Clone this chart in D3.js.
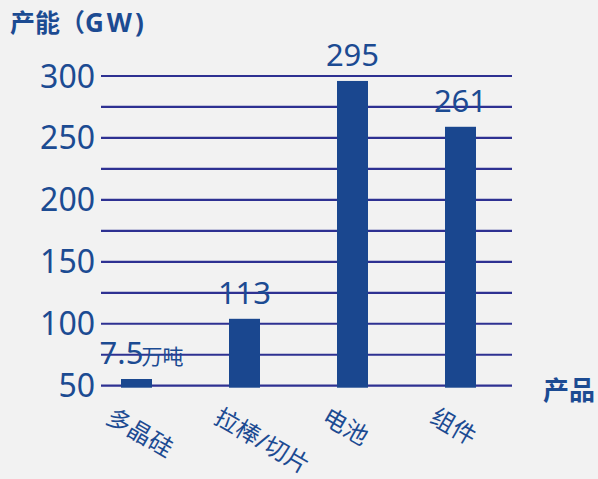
<!DOCTYPE html>
<html>
<head>
<meta charset="utf-8">
<script src="https://cdn.jsdelivr.net/npm/d3@7"></script>
<style>
  html, body { margin: 0; padding: 0; background: #f2f2f2; }
  svg { display: block; }
  text { font-family: "Noto Sans", "Noto Sans CJK SC", sans-serif; fill: #1c4b92; }
</style>
</head>
<body>
<svg id="chart" width="598" height="479"></svg>
<script>
// chart data
const categories = ["多晶硅", "拉棒/切片", "电池", "组件"];
const barValues = [55.4, 104, 296, 259];
const valueLabels = ["7.5", "113", "295", "261"];
const valueUnits = ["万吨", "", "", ""];
const yTickLabels = [50, 100, 150, 200, 250, 300];
const gridValues = [50, 75, 100, 125, 150, 175, 200, 225, 250, 275, 300];

const width = 598, height = 479;
const svg = d3.select("#chart");

svg.append("rect")
    .attr("width", width)
    .attr("height", height)
    .attr("fill", "#f2f2f2");

const y = d3.scaleLinear().domain([50, 300]).range([385.7, 76]);
const x = d3.scaleBand().domain(categories).range([82.5, 514.5])
    .paddingInner(0.713)
    .paddingOuter(0.3565);

/* grid lines */
svg.append("g")
    .selectAll("line")
    .data(gridValues)
    .enter()
    .append("line")
    .attr("x1", 101)
    .attr("x2", 512)
    .attr("y1", d => y(d))
    .attr("y2", d => y(d))
    .style("stroke", "#2e3192")
    .style("stroke-width", 2.2);

/* y tick labels */
svg.append("g")
    .selectAll("text")
    .data(yTickLabels)
    .enter()
    .append("text")
    .attr("x", 95)
    .attr("y", d => y(d))
    .attr("dy", "0.36em")
    .attr("text-anchor", "end")
    .style("font-size", "32px")
    .text(d => d);

/* bars */
svg.append("g")
    .selectAll("rect")
    .data(categories)
    .enter()
    .append("rect")
    .attr("x", d => x(d))
    .attr("width", x.bandwidth())
    .attr("y", (d, i) => y(barValues[i]))
    .attr("height", (d, i) => y(50) - y(barValues[i]) + 2)
    .style("fill", "#1a478f");

/* value labels */
const vl = svg.append("g")
    .selectAll("text")
    .data(categories)
    .enter()
    .append("text")
    .attr("x", (d, i) => x(d) + x.bandwidth() / 2 + (valueUnits[i] ? 5 : 0))
    .attr("y", (d, i) => y(barValues[i]) - 15)
    .attr("text-anchor", "middle")
    .style("font-size", "31px");

vl.append("tspan").text((d, i) => valueLabels[i]);
vl.append("tspan")
    .style("font-size", "21px")
    .attr("dx", -2)
    .text((d, i) => valueUnits[i]);

/* category labels, rotated */
svg.append("g")
    .selectAll("text")
    .data(categories)
    .enter()
    .append("text")
    .attr("transform", d => {
        const cx = x(d) + x.bandwidth() / 2;
        return `translate(${cx - 32},${422}) rotate(30)`;
    })
    .style("font-size", "24px")
    .text(d => d);

/* axis titles */
const title = svg.append("text")
    .attr("x", 10)
    .attr("y", 32)
    .style("font-size", "25px")
    .style("font-weight", "bold");
title.append("tspan").text("产能（");
title.append("tspan")
    .style("font-size", "26px")
    .style("letter-spacing", "3px")
    .text("GW)");

svg.append("text")
    .attr("x", 543)
    .attr("y", 400)
    .style("font-size", "26px")
    .style("font-weight", "bold")
    .text("产品");
</script>
</body>
</html>
